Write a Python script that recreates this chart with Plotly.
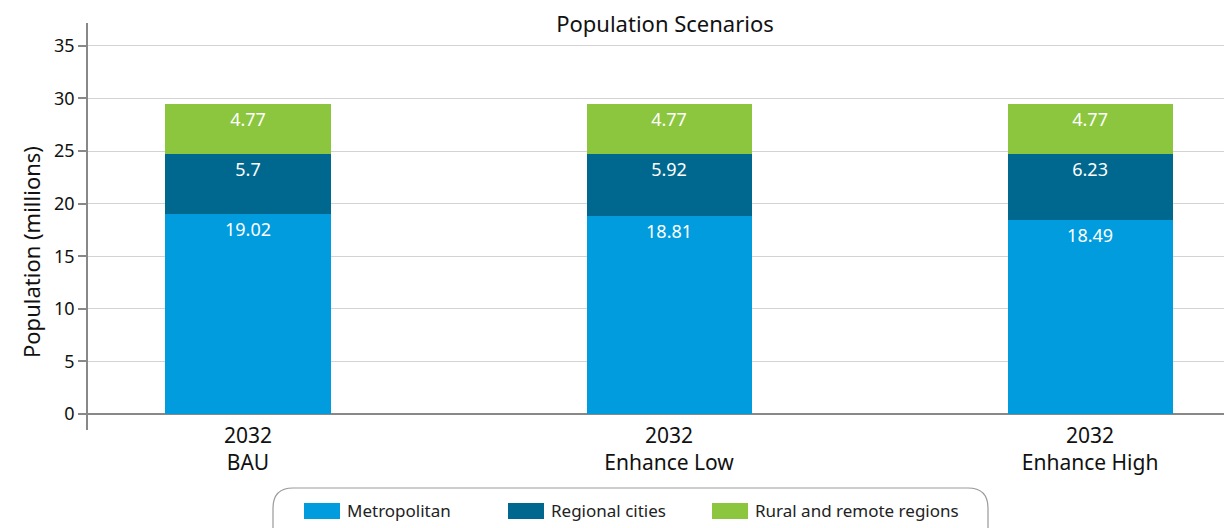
import plotly.graph_objects as go

# ---- data ----
categories = ["2032<br>BAU", "2032<br>Enhance Low", "2032<br>Enhance High"]
series_names = ["Metropolitan", "Regional cities", "Rural and remote regions"]
metropolitan = [19.02, 18.81, 18.49]
regional = [5.7, 5.92, 6.23]
rural = [4.77, 4.77, 4.77]
colors = ["#009cdd", "#00688f", "#8cc63f"]
y_ticks = [0, 5, 10, 15, 20, 25, 30, 35]

FONT = "'Noto Sans', Lato, sans-serif"

# plot-area pixel geometry (for layout helpers only)
W, H = 1224, 528
L, R, T, B = 88, 0, 23, 98
PW, PH = W - L - R, H - T - B


def px(x):
    return (x - L) / PW


def py(y):
    return (H - B - y) / PH


fig = go.Figure()
for name, vals, col in zip(series_names, [metropolitan, regional, rural], colors):
    fig.add_trace(go.Bar(
        x=categories, y=vals, name=name,
        marker=dict(color=col, line=dict(width=0)),
        width=0.392,
        text=[f"{v:g}" for v in vals],
        textposition="inside", insidetextanchor="end",
        textfont=dict(color="white", size=18, family=FONT),
        showlegend=False,
    ))

# custom legend: rounded box + swatches + labels
x0, x1, y0, y1, r = 273, 988, 488, 560, 20
path = (f"M{px(x0 + r)},{py(y0)} L{px(x1 - r)},{py(y0)} "
        f"Q{px(x1)},{py(y0)} {px(x1)},{py(y0 + r)} L{px(x1)},{py(y1 - r)} "
        f"Q{px(x1)},{py(y1)} {px(x1 - r)},{py(y1)} L{px(x0 + r)},{py(y1)} "
        f"Q{px(x0)},{py(y1)} {px(x0)},{py(y1 - r)} L{px(x0)},{py(y0 + r)} "
        f"Q{px(x0)},{py(y0)} {px(x0 + r)},{py(y0)} Z")
shapes = [dict(type="path", path=path, xref="paper", yref="paper",
               line=dict(color="#999999", width=1.2), fillcolor="rgba(0,0,0,0)")]
annotations = []
swatch_x = [304, 508, 712]
for sx, name, col in zip(swatch_x, series_names, colors):
    shapes.append(dict(type="rect", xref="paper", yref="paper",
                       x0=px(sx), x1=px(sx + 36), y0=py(519), y1=py(503),
                       fillcolor=col, line=dict(width=0)))
    annotations.append(dict(x=px(sx + 41), y=py(511), xref="paper", yref="paper",
                            text=name, showarrow=False, xanchor="left", yanchor="middle",
                            font=dict(size=17, color="#222222", family=FONT)))

# y-axis title as a rotated annotation (centred as in the reference)
annotations.append(dict(x=px(31), y=py(252), xref="paper", yref="paper",
                        text="Population (millions)", textangle=-90, showarrow=False,
                        xanchor="center", yanchor="middle",
                        font=dict(size=22, color="#111111", family=FONT)))

fig.update_layout(
    barmode="stack",
    width=W, height=H,
    margin=dict(l=L, r=R, t=T, b=B),
    paper_bgcolor="white", plot_bgcolor="white",
    font=dict(family=FONT, color="#111111"),
    title=dict(text="Population Scenarios", x=665 / W, xanchor="center",
               y=1 - 24 / H, yanchor="middle",
               font=dict(size=22, color="#111111", family=FONT)),
    shapes=shapes,
    annotations=annotations,
    xaxis=dict(range=[-0.38, 2.318], showgrid=False, zeroline=False, showline=False,
               ticks="", ticklabelstandoff=-9,
               tickfont=dict(size=21, color="#111111", family=FONT)),
    yaxis=dict(range=[-1.52, 37.17], tickvals=y_ticks, showgrid=True,
               gridcolor="#d3d3d3", gridwidth=1,
               zeroline=True, zerolinecolor="#888888", zerolinewidth=1.5,
               showline=True, linecolor="#888888", linewidth=1.5,
               ticks="outside", ticklen=8, tickcolor="#888888", tickwidth=1.5,
               tickfont=dict(size=18, color="#111111", family=FONT)),
)

fig.write_html("out.html")
